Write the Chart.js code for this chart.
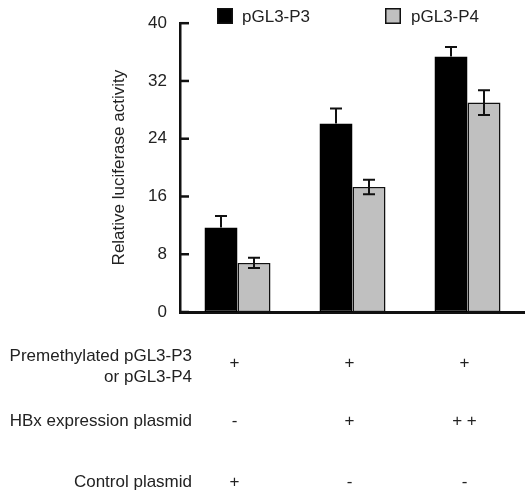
<!DOCTYPE html>
<html>
<head>
<meta charset="utf-8">
<script src="https://cdn.jsdelivr.net/npm/chart.js@4/dist/chart.umd.min.js"></script>
<style>
html,body{margin:0;padding:0;background:#fff;}
#wrap{width:525px;height:492px;}
</style>
</head>
<body>
<div id="wrap"><canvas id="c" width="525" height="492"></canvas></div>
<script>
const categories = ['Group 1', 'Group 2', 'Group 3'];
const seriesLabels = ['pGL3-P3', 'pGL3-P4'];
const p3Values = [11.7, 26.1, 35.4];
const p3Errors = [1.6, 2.1, 1.3];
const p4Values = [6.8, 17.3, 29.0];
const p4Errors = [0.7, 1.0, 1.7];
const yTicks = [0, 8, 16, 24, 32, 40];
const rowLabels = [['Premethylated pGL3-P3', 'or pGL3-P4'], ['HBx expression plasmid'], ['Control plasmid']];
const rowSymbols = [['+', '+', '+'], ['-', '+', '+ +'], ['+', '-', '-']];

const FONT = '"Liberation Sans", Arial, sans-serif';
const TEXT = '#222';

const errorBars = {
  id: 'errorBars',
  afterDatasetsDraw(chart) {
    const ctx = chart.ctx;
    const y = chart.scales.y;
    const errs = [p3Errors, p4Errors];
    ctx.save();
    ctx.strokeStyle = '#111';
    ctx.lineWidth = 2;
    chart.data.datasets.forEach((ds, di) => {
      const meta = chart.getDatasetMeta(di);
      meta.data.forEach((bar, i) => {
        const v = ds.data[i], e = errs[di][i];
        const yt = y.getPixelForValue(v + e);
        const yb = di === 0 ? y.getPixelForValue(v) : y.getPixelForValue(v - e);
        const x = bar.x;
        ctx.beginPath();
        ctx.moveTo(x, yt); ctx.lineTo(x, yb);
        ctx.moveTo(x - 6, yt); ctx.lineTo(x + 6, yt);
        if (di !== 0) { ctx.moveTo(x - 6, yb); ctx.lineTo(x + 6, yb); }
        ctx.stroke();
      });
    });
    ctx.restore();
  }
};

const extras = {
  id: 'extras',
  afterDraw(chart) {
    const ctx = chart.ctx;
    const y = chart.scales.y, x = chart.scales.x;
    const left = chart.chartArea.left;
    ctx.save();
    // inward ticks
    ctx.strokeStyle = '#111';
    ctx.lineWidth = 2.5;
    yTicks.forEach(t => {
      const py = y.getPixelForValue(t);
      ctx.beginPath();
      ctx.moveTo(left, py); ctx.lineTo(left + 9, py);
      ctx.stroke();
    });
    // legend
    ctx.font = '17px ' + FONT;
    ctx.textBaseline = 'middle';
    ctx.textAlign = 'left';
    const legendPos = [[217, 242], [385, 411]];
    chart.data.datasets.forEach((ds, di) => {
      const [bx, tx] = legendPos[di];
      ctx.fillStyle = ds.backgroundColor;
      ctx.fillRect(bx, 8, 16, 16);
      ctx.strokeStyle = '#111';
      ctx.lineWidth = 1.5;
      ctx.strokeRect(bx + 0.75, 8.75, 14.5, 14.5);
      ctx.fillStyle = TEXT;
      ctx.fillText(ds.label, tx, 17);
    });
    // condition table
    const rowY = [[356, 377], [421], [482]];
    const symY = [363, 421, 482];
    ctx.textAlign = 'right';
    rowLabels.forEach((lines, r) => {
      lines.forEach((ln, k) => ctx.fillText(ln, 192, rowY[r][k]));
    });
    ctx.textAlign = 'center';
    rowSymbols.forEach((syms, r) => {
      syms.forEach((s, c) => {
        ctx.fillText(s, x.getPixelForValue(c) - 3, symY[r]);
      });
    });
    ctx.restore();
  }
};

new Chart(document.getElementById('c'), {
  type: 'bar',
  data: {
    labels: categories,
    datasets: [
      { label: seriesLabels[0], data: p3Values, backgroundColor: '#000000', borderColor: '#000', borderWidth: 1.5, borderSkipped: false },
      { label: seriesLabels[1], data: p4Values, backgroundColor: '#c0c0c0', borderColor: '#111', borderWidth: 1.5, borderSkipped: false }
    ]
  },
  options: {
    responsive: false,
    animation: false,
    layout: { padding: { top: 18, bottom: 180, left: 0, right: 0 } },
    datasets: { bar: { categoryPercentage: 0.574, barPercentage: 1.0 } },
    plugins: { legend: { display: false }, tooltip: { enabled: false } },
    scales: {
      x: {
        grid: { display: false, drawTicks: false },
        border: { display: true, color: '#111', width: 3 },
        ticks: { display: false },
        afterFit(s) { s.height = 0; }
      },
      y: {
        min: 0, max: 40,
        afterBuildTicks(s) { s.ticks = yTicks.map(v => ({ value: v })); },
        grid: { display: false, drawTicks: false },
        border: { display: true, color: '#111', width: 2.5 },
        ticks: { padding: 13, color: TEXT, font: { family: FONT, size: 17 } },
        title: { display: true, text: 'Relative luciferase activity', color: TEXT, font: { family: FONT, size: 17 }, padding: { top: 109, bottom: 0 } },
        afterFit(s) { s.width = 180; }
      }
    }
  },
  plugins: [errorBars, extras]
});
</script>
</body>
</html>
